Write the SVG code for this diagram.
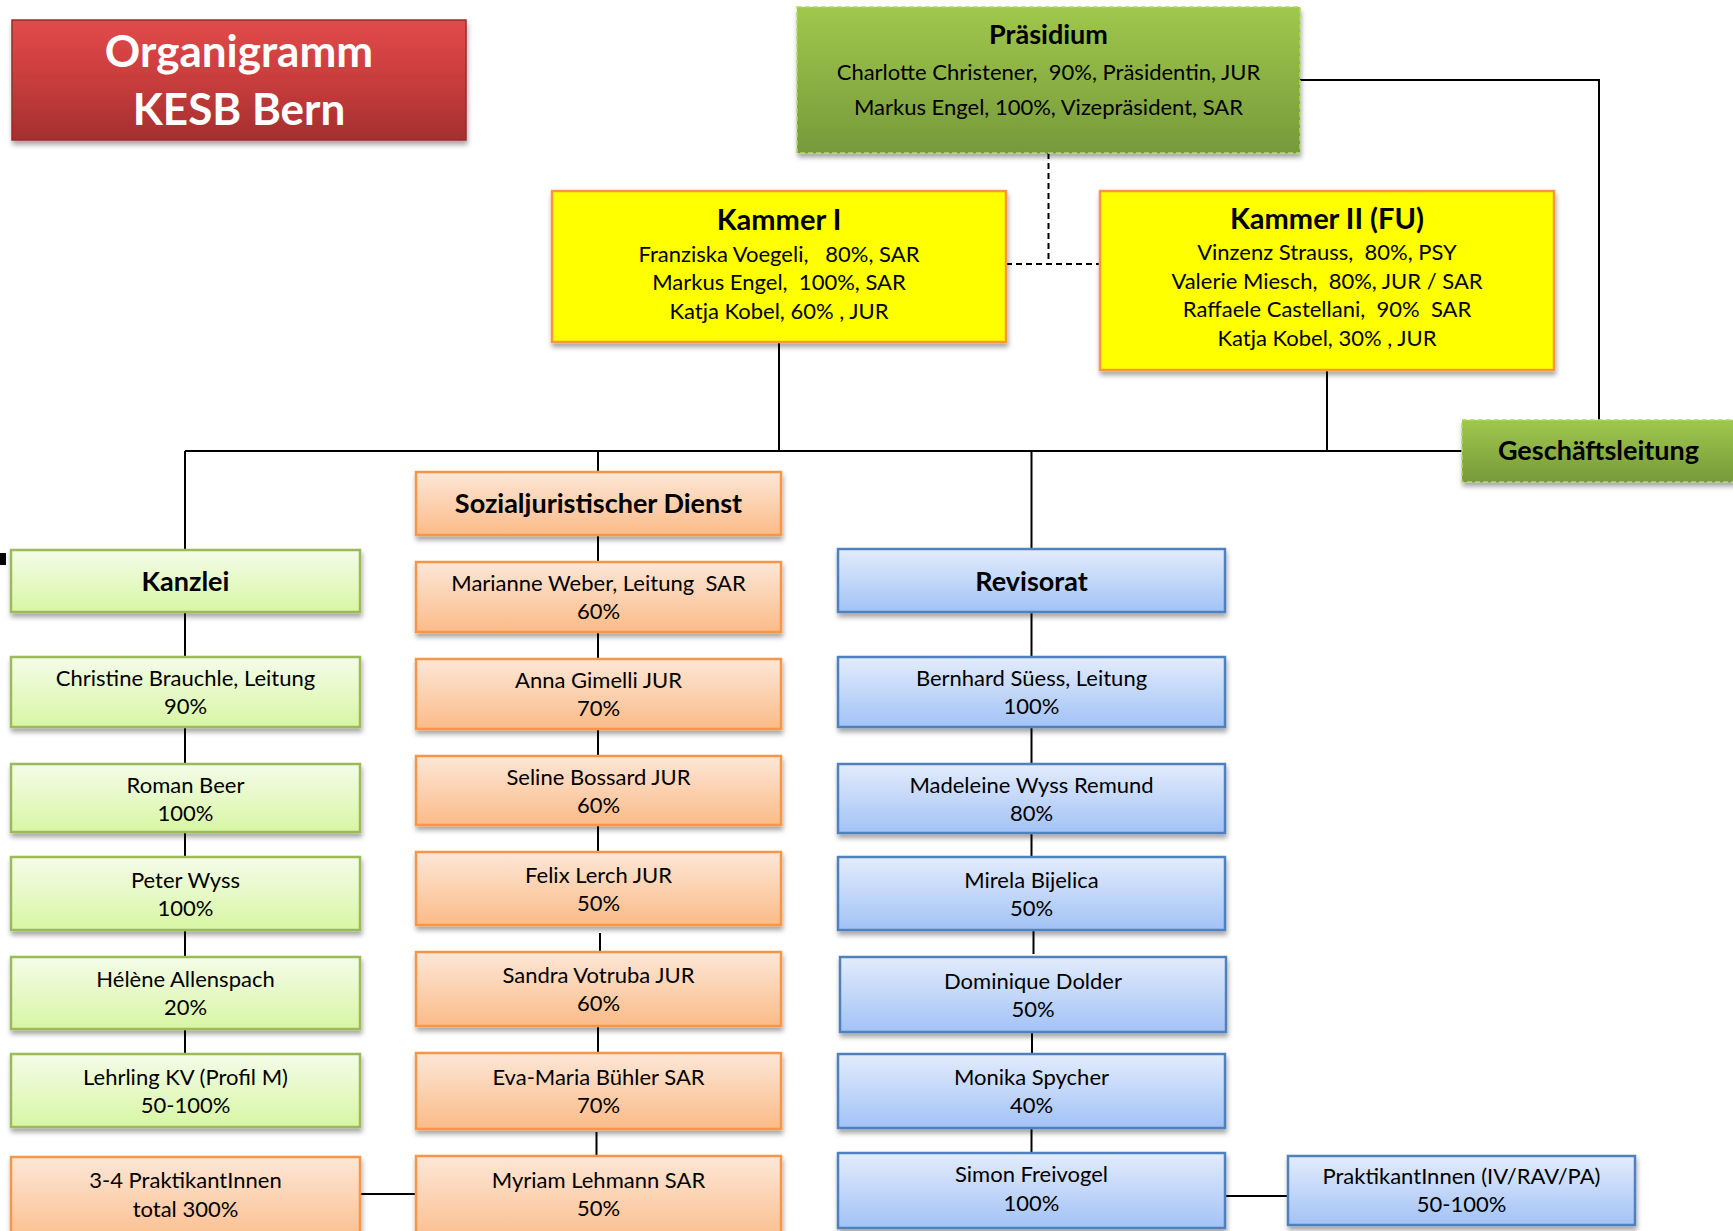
<svg xmlns="http://www.w3.org/2000/svg" width="1733" height="1231" viewBox="0 0 1733 1231">
<defs>
<linearGradient id="gRed" x1="0" y1="0" x2="0" y2="1"><stop offset="0" stop-color="#e24a4a"/><stop offset="0.5" stop-color="#c93d3d"/><stop offset="1" stop-color="#a42f2f"/></linearGradient>
<linearGradient id="gDark" x1="0" y1="0" x2="0" y2="1"><stop offset="0" stop-color="#9fc84c"/><stop offset="1" stop-color="#77993b"/></linearGradient>
<linearGradient id="gLight" x1="0" y1="0" x2="0" y2="1"><stop offset="0" stop-color="#f4fce9"/><stop offset="1" stop-color="#d8f6a4"/></linearGradient>
<linearGradient id="gOrange" x1="0" y1="0" x2="0" y2="1"><stop offset="0" stop-color="#fde7d7"/><stop offset="1" stop-color="#fbbb88"/></linearGradient>
<linearGradient id="gBlue" x1="0" y1="0" x2="0" y2="1"><stop offset="0" stop-color="#e3ecfc"/><stop offset="1" stop-color="#a2c2f6"/></linearGradient>
<filter id="sh" x="-10%" y="-10%" width="120%" height="130%"><feDropShadow dx="1" dy="4" stdDeviation="2.5" flood-color="#000" flood-opacity="0.35"/></filter>
</defs>
<style>
text{font-family:Lato,"Liberation Sans",sans-serif;text-anchor:middle;fill:#000}
.r{font-size:22px}
.b{font-size:27px;font-weight:bold}
.k{font-size:29px;font-weight:bold}
.t{font-size:44px;font-weight:bold;fill:#fff}
.red{fill:url(#gRed);stroke:#9a2b2b;stroke-width:1.5;filter:url(#sh)}
.dark{fill:url(#gDark);stroke:#b0d868;stroke-width:1.5;stroke-dasharray:5 3;filter:url(#sh)}
.light{fill:url(#gLight);stroke:#9bbb59;stroke-width:2.5;filter:url(#sh)}
.orange{fill:url(#gOrange);stroke:#f79646;stroke-width:2.5;filter:url(#sh)}
.blue{fill:url(#gBlue);stroke:#4f81bd;stroke-width:2.5;filter:url(#sh)}
.yellow{fill:#ffff00;stroke:#f79646;stroke-width:2.5;filter:url(#sh)}
.c{fill:none;stroke:#000;stroke-width:2}
.d{fill:none;stroke:#000;stroke-width:2;stroke-dasharray:6 4}
</style>
<rect width="1733" height="1231" fill="#fff"/>
<rect x="0" y="553" width="6" height="12" fill="#000"/>

<g id="connectors">
<path class="c" d="M1300 80H1599V420"/>
<path class="d" d="M1048.5 153V264"/>
<path class="d" d="M1006 264H1100"/>
<path class="c" d="M779 342V451"/>
<path class="c" d="M1327 370V451"/>
<path class="c" d="M185 451H1462"/>
<path class="c" d="M185 451V550M185 612V657M185 727V764M185 832V857M185 930V957M185 1029V1054"/>
<path class="c" d="M598 451V472M598 535V562M598 632V659M598 729V756M598 825V852M600 933V957M598 1026V1053M596.5 1132V1156"/>
<path class="c" d="M1031.5 451V549M1031.5 612V657M1031.5 727V764M1031.5 833V857M1033.5 930V954M1032 1032V1054M1031.5 1128V1153"/>
<path class="c" d="M360 1194H416"/>
<path class="c" stroke-width="3" d="M1225 1196H1288"/>
</g>

<g id="title"><rect class="red" x="12" y="20" width="454" height="120"/><text class="t" x="239" y="67">Organigramm</text><text class="t" x="239" y="125">KESB Bern</text></g>

<g id="praesidium"><rect class="dark" x="797" y="7" width="503" height="146"/><text class="b" x="1048.5" y="44">Präsidium</text><text class="r" x="1048.5" y="80" xml:space="preserve">Charlotte Christener,  90%, Präsidentin, JUR</text><text class="r" x="1048.5" y="115">Markus Engel, 100%, Vizepräsident, SAR</text></g>

<g id="kammer1"><rect class="yellow" x="552" y="191" width="454" height="151"/><text class="k" x="779" y="230">Kammer I</text><text class="r" x="779" y="261.5" xml:space="preserve">Franziska Voegeli,   80%, SAR</text><text class="r" x="779" y="290" xml:space="preserve">Markus Engel,  100%, SAR</text><text class="r" x="779" y="318.5">Katja Kobel, 60% , JUR</text></g>

<g id="kammer2"><rect class="yellow" x="1100" y="191" width="454" height="179"/><text class="k" x="1327" y="229">Kammer II (FU)</text><text class="r" x="1327" y="259.5" xml:space="preserve">Vinzenz Strauss,  80%, PSY</text><text class="r" x="1327" y="288.5" xml:space="preserve">Valerie Miesch,  80%, JUR / SAR</text><text class="r" x="1327" y="317" xml:space="preserve">Raffaele Castellani,  90%  SAR</text><text class="r" x="1327" y="345.5">Katja Kobel, 30% , JUR</text></g>

<g id="geschaeftsleitung"><rect class="dark" x="1462" y="420" width="290" height="62"/><text class="b" x="1598.5" y="460">Geschäftsleitung</text></g>

<g id="kanzlei"><rect class="light" x="11" y="550" width="349" height="62"/><text class="b" x="185.5" y="590.5">Kanzlei</text></g>
<g id="brauchle"><rect class="light" x="11" y="657" width="349" height="70"/><text class="r" x="185.5" y="686">Christine Brauchle, Leitung</text><text class="r" x="185.5" y="714">90%</text></g>
<g id="beer"><rect class="light" x="11" y="764" width="349" height="68"/><text class="r" x="185.5" y="792.5">Roman Beer</text><text class="r" x="185.5" y="820.5">100%</text></g>
<g id="wyss"><rect class="light" x="11" y="857" width="349" height="73"/><text class="r" x="185.5" y="887.5">Peter Wyss</text><text class="r" x="185.5" y="915.5">100%</text></g>
<g id="allenspach"><rect class="light" x="11" y="957" width="349" height="72"/><text class="r" x="185.5" y="987">Hélène Allenspach</text><text class="r" x="185.5" y="1015">20%</text></g>
<g id="lehrling"><rect class="light" x="11" y="1054" width="349" height="73"/><text class="r" x="185.5" y="1085">Lehrling KV (Profil M)</text><text class="r" x="185.5" y="1113">50-100%</text></g>
<g id="praktikanten1"><rect class="orange" x="11" y="1157" width="349" height="90"/><text class="r" x="185.5" y="1188">3-4 PraktikantInnen</text><text class="r" x="185.5" y="1217">total 300%</text></g>

<g id="sozial"><rect class="orange" x="416" y="472" width="365" height="63"/><text class="b" x="598.5" y="513">Sozialjuristischer Dienst</text></g>
<g id="weber"><rect class="orange" x="416" y="562" width="365" height="70"/><text class="r" x="598.5" y="591" xml:space="preserve">Marianne Weber, Leitung  SAR</text><text class="r" x="598.5" y="619">60%</text></g>
<g id="gimelli"><rect class="orange" x="416" y="659" width="365" height="70"/><text class="r" x="598.5" y="688">Anna Gimelli JUR</text><text class="r" x="598.5" y="716">70%</text></g>
<g id="bossard"><rect class="orange" x="416" y="756" width="365" height="69"/><text class="r" x="598.5" y="784.5">Seline Bossard JUR</text><text class="r" x="598.5" y="812.5">60%</text></g>
<g id="lerch"><rect class="orange" x="416" y="852" width="365" height="73"/><text class="r" x="598.5" y="882.5">Felix Lerch JUR</text><text class="r" x="598.5" y="910.5">50%</text></g>
<g id="votruba"><rect class="orange" x="416" y="952" width="365" height="74"/><text class="r" x="598.5" y="983">Sandra Votruba JUR</text><text class="r" x="598.5" y="1011">60%</text></g>
<g id="buehler"><rect class="orange" x="416" y="1053" width="365" height="76"/><text class="r" x="598.5" y="1085">Eva-Maria Bühler SAR</text><text class="r" x="598.5" y="1113">70%</text></g>
<g id="lehmann"><rect class="orange" x="416" y="1156" width="365" height="90"/><text class="r" x="598.5" y="1188">Myriam Lehmann SAR</text><text class="r" x="598.5" y="1216">50%</text></g>

<g id="revisorat"><rect class="blue" x="838" y="549" width="387" height="63"/><text class="b" x="1031.5" y="590.5">Revisorat</text></g>
<g id="sueess"><rect class="blue" x="838" y="657" width="387" height="70"/><text class="r" x="1031.5" y="686">Bernhard Süess, Leitung</text><text class="r" x="1031.5" y="714">100%</text></g>
<g id="remund"><rect class="blue" x="838" y="764" width="387" height="69"/><text class="r" x="1031.5" y="792.5">Madeleine Wyss Remund</text><text class="r" x="1031.5" y="820.5">80%</text></g>
<g id="bijelica"><rect class="blue" x="838" y="857" width="387" height="73"/><text class="r" x="1031.5" y="887.5">Mirela Bijelica</text><text class="r" x="1031.5" y="915.5">50%</text></g>
<g id="dolder"><rect class="blue" x="840" y="957" width="386" height="75"/><text class="r" x="1033" y="988.5">Dominique Dolder</text><text class="r" x="1033" y="1016.5">50%</text></g>
<g id="spycher"><rect class="blue" x="838" y="1054" width="387" height="74"/><text class="r" x="1031.5" y="1085">Monika Spycher</text><text class="r" x="1031.5" y="1113">40%</text></g>
<g id="freivogel"><rect class="blue" x="838" y="1153" width="387" height="75"/><text class="r" x="1031.5" y="1182">Simon Freivogel</text><text class="r" x="1031.5" y="1211">100%</text></g>
<g id="praktikanten2"><rect class="blue" x="1288" y="1156" width="347" height="69"/><text class="r" x="1461.5" y="1184">PraktikantInnen (IV/RAV/PA)</text><text class="r" x="1461.5" y="1212">50-100%</text></g>
</svg>
